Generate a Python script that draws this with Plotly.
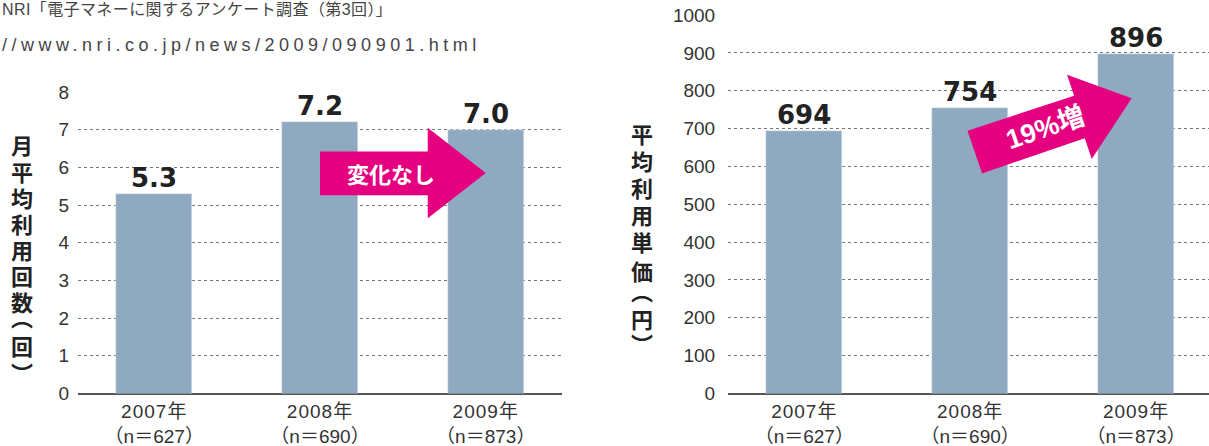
import plotly.graph_objects as go

# ---- data ----
years = ["2007年", "2008年", "2009年"]
samples = ["（n＝627）", "（n＝690）", "（n＝873）"]
monthly_uses = [5.3, 7.2, 7.0]
unit_price = [694, 754, 896]
left_title = "月平均利用回数︵回︶"
right_title = "平均利用単価︵円︶"
source_line1 = "NRI「電子マネーに関するアンケート調査（第3回）」"
source_line2 = "//www.nri.co.jp/news/2009/090901.html"
left_arrow_text = "変化なし"
right_arrow_text = "19%増"

BAR = "#8FA9C0"
PINK = "#E5007F"
TXT = "#333333"
LATIN = "Liberation Sans, Arial, Noto Sans CJK JP, sans-serif"
CJK = "Noto Sans CJK JP, sans-serif"
W, H = 1209, 446

xpos = list(range(len(years)))
ticktext = [f"<span style='letter-spacing:1px'>{y}</span><br>{s}" for y, s in zip(years, samples)]

fig = go.Figure()
fig.add_trace(go.Bar(x=xpos, y=monthly_uses, marker_color=BAR, width=0.458,
                     xaxis="x", yaxis="y", showlegend=False, hoverinfo="skip"))
fig.add_trace(go.Bar(x=xpos, y=unit_price, marker_color=BAR, width=0.458,
                     xaxis="x2", yaxis="y2", showlegend=False, hoverinfo="skip"))

annotations = []
for x, v in zip(xpos, monthly_uses):
    annotations.append(dict(x=x, y=v, xref="x", yref="y", text=f"<b>{v:.1f}</b>",
                            showarrow=False, yanchor="middle", yshift=16,
                            font=dict(family="DejaVu Sans", size=26, color="#222")))
for x, v in zip(xpos, unit_price):
    annotations.append(dict(x=x, y=v, xref="x2", yref="y2", text=f"<b>{v}</b>",
                            showarrow=False, yanchor="middle", yshift=16,
                            font=dict(family="DejaVu Sans", size=26, color="#222")))


# axis titles (vertical, one character per line, stacked)
def vertical_title(text, xc, centers):
    for ch, yc in zip(text, centers):
        shift = -5 if ch == "︵" else (5 if ch == "︶" else 0)
        annotations.append(dict(x=xc / W, y=(H - (yc + shift)) / H, xref="paper", yref="paper",
                                xanchor="center", yanchor="middle", text=ch, showarrow=False,
                                font=dict(family=CJK, size=22, color="#222", weight="bold")))


vertical_title(left_title, 22, [144, 170.5, 197, 223, 249, 275, 301, 321, 344.5, 367])
vertical_title(right_title, 642, [132.6, 160.2, 187.4, 214, 241.5, 269.7, 295.3, 317.9, 337.8])

# source text
annotations.append(dict(x=0, y=(H - 10) / H, xref="paper", yref="paper", xanchor="left",
                        yanchor="middle",
                        text=f"<span style='letter-spacing:0.4px'>{source_line1}</span>",
                        showarrow=False, font=dict(family=LATIN, size=16, color="#444")))
annotations.append(dict(x=0, y=(H - 45) / H, xref="paper", yref="paper", xanchor="left",
                        yanchor="middle",
                        text=f"<span style='letter-spacing:4.5px'>{source_line2}</span>",
                        showarrow=False, font=dict(family=LATIN, size=18, color="#444")))
# arrow texts
annotations.append(dict(x=1.43, y=5.84, xref="x", yref="y", text=f"<b>{left_arrow_text}</b>",
                        showarrow=False, font=dict(family=CJK, size=22, color="white", weight="bold")))
annotations.append(dict(x=1.452, y=701, xref="x2", yref="y2", text=f"<b>{right_arrow_text}</b>",
                        showarrow=False, textangle=-19,
                        font=dict(family=LATIN, size=27, color="white", weight="bold")))

shapes = [
    dict(type="path", xref="x", yref="y", layer="above", line=dict(width=0), fillcolor=PINK,
         path="M 1.0,6.42 L 1.65,6.42 L 1.65,7.05 L 2.0,5.85 L 1.65,4.65 L 1.65,5.26 L 1.0,5.26 Z"),
    dict(type="path", xref="x2", yref="y2", layer="above", line=dict(width=0), fillcolor=PINK,
         path="M 0.984,693.9 L 1.627,786.8 L 1.584,842.1 L 1.974,779.9 L 1.733,619.3 L 1.691,674.6 L 1.072,581.5 Z"),
]

yb = (H - 393.5) / H
common_y = dict(showgrid=True, gridcolor="#777", griddash="dot", gridwidth=1,
                zeroline=True, zerolinecolor="#555", zerolinewidth=1.5,
                ticks="outside", tickcolor="rgba(0,0,0,0)", showline=False, automargin=False,
                tickfont=dict(family=LATIN, size=19, color=TXT))
common_x = dict(tickvals=xpos, ticktext=ticktext, showgrid=False, zeroline=False, showline=False,
                ticks="outside", ticklen=1, tickcolor="rgba(0,0,0,0)", automargin=False,
                tickfont=dict(family=LATIN, size=19, color=TXT))

fig.update_layout(
    width=W, height=H, margin=dict(l=0, r=0, t=0, b=0, autoexpand=False),
    paper_bgcolor="white", plot_bgcolor="white", bargap=0,
    xaxis=dict(domain=[78 / W, 562 / W], range=[-0.46, 2.46], **common_x),
    yaxis=dict(domain=[yb, (H - 92) / H], range=[0, 8], dtick=1, ticklen=4, **common_y),
    xaxis2=dict(domain=[728 / W, 1.0], range=[-0.46, 2.44], anchor="y2", **common_x),
    yaxis2=dict(domain=[yb, (H - 15) / H], range=[0, 1000], dtick=100, ticklen=8,
                anchor="x2", **common_y),
    annotations=annotations, shapes=shapes,
)

fig.write_html("out.html", config={"displayModeBar": False},
               post_script="document.body.style.margin='0';document.body.style.overflow='hidden';")
